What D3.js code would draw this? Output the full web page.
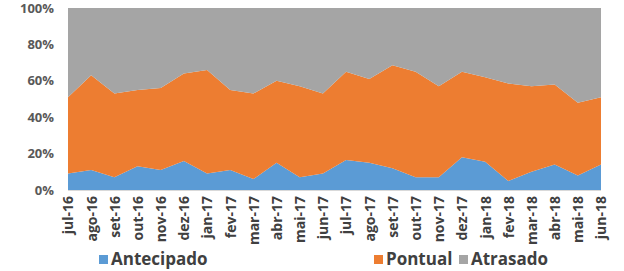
<!DOCTYPE html>
<html>
<head>
<meta charset="utf-8">
<script src="https://cdn.jsdelivr.net/npm/d3@7"></script>
<style>
  body { margin: 0; background: #fff; }
  text { font-family: "Open Sans", "Liberation Sans", sans-serif; }
</style>
</head>
<body>
<div id="chart"></div>
<script>
// meses (jul-16 .. jun-18)
var meses = ["jul-16","ago-16","set-16","out-16","nov-16","dez-16","jan-17","fev-17","mar-17","abr-17","mai-17","jun-17",
             "jul-17","ago-17","set-17","out-17","nov-17","dez-17","jan-18","fev-18","mar-18","abr-18","mai-18","jun-18"];

// percentagens
var antecipado = [9, 11, 7, 13, 11, 16, 9, 11, 6, 15, 7, 9, 16.5, 15, 12, 7, 7, 18, 15.5, 5, 10, 14, 8, 14];
var pontual    = [42, 52, 46, 42, 45, 48, 57, 44, 47, 45, 50, 44, 48.5, 46, 56.5, 58, 50, 47, 46.5, 53.5, 47, 44, 40, 37];
var atrasado   = [49, 37, 47, 45, 44, 36, 34, 45, 47, 40, 43, 47, 35, 39, 31.5, 35, 43, 35, 38, 41.5, 43, 42, 52, 49];

var series = ["Antecipado", "Pontual", "Atrasado"];
var cores = ["#5b9bd5", "#ed7d31", "#a5a5a5"];
var yTicks = [0, 20, 40, 60, 80, 100];

var width = 624, height = 271;
var margin = {top: 8, right: 23, bottom: 81, left: 68};
var w = width - margin.left - margin.right;
var h = height - margin.top - margin.bottom;

var data = meses.map(function(m, i) {
  return { mes: m, Antecipado: antecipado[i], Pontual: pontual[i], Atrasado: atrasado[i] };
});

var svg = d3.select("#chart").append("svg")
  .attr("width", width)
  .attr("height", height);

var g = svg.append("g")
  .attr("transform", "translate(" + margin.left + "," + margin.top + ")");

var x = d3.scalePoint().domain(meses).range([0, w]);
var y = d3.scaleLinear().domain([0, 100]).range([h, 0]);

var stack = d3.stack().keys(series).offset(d3.stackOffsetExpand);
var layers = stack(data);

var area = d3.area()
  .x(function(d) { return x(d.data.mes); })
  .y0(function(d) { return y(d[0] * 100); })
  .y1(function(d) { return y(d[1] * 100); });

g.selectAll(".layer")
  .data(layers)
  .enter().append("path")
  .attr("class", "layer")
  .attr("d", area)
  .attr("fill", function(d, i) { return cores[i]; });

// eixo y
var yAxis = g.append("g")
  .call(d3.axisLeft(y).tickValues(yTicks).tickSize(0).tickPadding(14)
    .tickFormat(function(d) { return d + "%"; }));
yAxis.select(".domain").remove();
yAxis.selectAll("text")
  .attr("font-size", "13px")
  .attr("font-weight", "bold")
  .attr("fill", "#595959");

// linha da base
g.append("line")
  .attr("x1", 0).attr("x2", w)
  .attr("y1", h + 0.5).attr("y2", h + 0.5)
  .attr("stroke", "#d9d9d9");

// eixo x
var xAxis = g.append("g")
  .attr("transform", "translate(0," + h + ")")
  .call(d3.axisBottom(x).tickSize(0).tickPadding(0));
xAxis.select(".domain").remove();
xAxis.selectAll("text")
  .attr("transform", "rotate(-90)")
  .attr("x", -6)
  .attr("y", 0)
  .attr("dy", "0.35em")
  .attr("text-anchor", "end")
  .attr("font-size", "14px")
  .attr("font-weight", "bold")
  .attr("fill", "#404040");

// legenda
var legX = [99, 374, 459];
var leg = svg.selectAll(".leg")
  .data(series)
  .enter().append("g")
  .attr("class", "leg")
  .attr("transform", function(d, i) { return "translate(" + legX[i] + ",255)"; });

leg.append("rect")
  .attr("width", 9).attr("height", 9)
  .attr("fill", function(d, i) { return cores[i]; });

leg.append("text")
  .attr("x", 12)
  .attr("y", 10)
  .attr("font-size", "17px")
  .attr("font-weight", "bold")
  .attr("fill", "#404040")
  .text(function(d) { return d; });
</script>
</body>
</html>
